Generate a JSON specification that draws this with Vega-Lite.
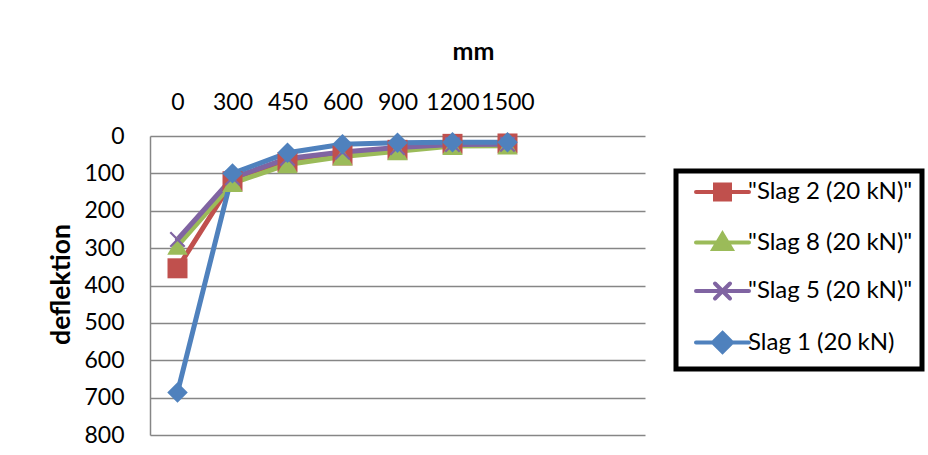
{
  "$schema": "https://vega.github.io/schema/vega-lite/v6.json",
  "width": 495,
  "height": 299,
  "autosize": {"type": "none"},
  "padding": {"left": 150, "top": 136, "right": 283, "bottom": 20},
  "background": "white",
  "config": {
    "font": "Lato",
    "view": {"stroke": null},
    "legend": {"strokeColor": "black", "strokeWidth": 5, "fillColor": "white"}
  },
  "data": {
    "values": [
      {"mm": "0", "deflektion": 354, "series": "\"Slag 2 (20 kN)\""},
      {"mm": "300", "deflektion": 121, "series": "\"Slag 2 (20 kN)\""},
      {"mm": "450", "deflektion": 70, "series": "\"Slag 2 (20 kN)\""},
      {"mm": "600", "deflektion": 52, "series": "\"Slag 2 (20 kN)\""},
      {"mm": "900", "deflektion": 37, "series": "\"Slag 2 (20 kN)\""},
      {"mm": "1200", "deflektion": 21, "series": "\"Slag 2 (20 kN)\""},
      {"mm": "1500", "deflektion": 20, "series": "\"Slag 2 (20 kN)\""},
      {"mm": "0", "deflektion": 294, "series": "\"Slag 8 (20 kN)\""},
      {"mm": "300", "deflektion": 126, "series": "\"Slag 8 (20 kN)\""},
      {"mm": "450", "deflektion": 76, "series": "\"Slag 8 (20 kN)\""},
      {"mm": "600", "deflektion": 55, "series": "\"Slag 8 (20 kN)\""},
      {"mm": "900", "deflektion": 41, "series": "\"Slag 8 (20 kN)\""},
      {"mm": "1200", "deflektion": 27, "series": "\"Slag 8 (20 kN)\""},
      {"mm": "1500", "deflektion": 26, "series": "\"Slag 8 (20 kN)\""},
      {"mm": "0", "deflektion": 277, "series": "\"Slag 5 (20 kN)\""},
      {"mm": "300", "deflektion": 112, "series": "\"Slag 5 (20 kN)\""},
      {"mm": "450", "deflektion": 60, "series": "\"Slag 5 (20 kN)\""},
      {"mm": "600", "deflektion": 43, "series": "\"Slag 5 (20 kN)\""},
      {"mm": "900", "deflektion": 31, "series": "\"Slag 5 (20 kN)\""},
      {"mm": "1200", "deflektion": 23, "series": "\"Slag 5 (20 kN)\""},
      {"mm": "1500", "deflektion": 22, "series": "\"Slag 5 (20 kN)\""},
      {"mm": "0", "deflektion": 686, "series": "Slag 1 (20 kN)"},
      {"mm": "300", "deflektion": 100, "series": "Slag 1 (20 kN)"},
      {"mm": "450", "deflektion": 45, "series": "Slag 1 (20 kN)"},
      {"mm": "600", "deflektion": 22, "series": "Slag 1 (20 kN)"},
      {"mm": "900", "deflektion": 18, "series": "Slag 1 (20 kN)"},
      {"mm": "1200", "deflektion": 17, "series": "Slag 1 (20 kN)"},
      {"mm": "1500", "deflektion": 17, "series": "Slag 1 (20 kN)"}
    ]
  },
  "encoding": {
    "x": {
      "field": "mm",
      "type": "ordinal",
      "scale": {"type": "point", "padding": 0.5, "domain": ["0", "300", "450", "600", "900", "1200", "1500", "~a", "~b"]},
      "axis": {
        "orient": "top",
        "title": "mm",
        "titleFontSize": 25,
        "titleFontWeight": "bold",
        "titleColor": "black",
        "titleX": 323,
        "titleY": -85,
        "titleAlign": "center",
        "titleBaseline": "middle",
        "labelAngle": 0,
        "labelFontSize": 23,
        "labelColor": "black",
        "labelPadding": 22,
        "labelOverlap": false,
        "labelBound": false,
        "labelFlush": false,
        "labelExpr": "indexof(datum.label, '~') >= 0 ? '' : datum.label",
        "ticks": false,
        "domain": false,
        "grid": false
      }
    },
    "y": {
      "field": "deflektion",
      "type": "quantitative",
      "scale": {"domain": [0, 800], "reverse": true, "nice": false, "zero": true},
      "axis": {
        "values": [0, 100, 200, 300, 400, 500, 600, 700, 800],
        "title": "deflektion",
        "titleFontSize": 26.5,
        "titleFontWeight": "bold",
        "titleColor": "black",
        "titleAngle": -90,
        "titleX": -89,
        "titleY": 148,
        "titleAlign": "center",
        "titleBaseline": "middle",
        "labelFontSize": 23,
        "labelColor": "black",
        "labelPadding": 26,
        "ticks": false,
        "domain": true,
        "domainColor": "#868686",
        "domainWidth": 1.5,
        "grid": true,
        "gridColor": "#868686",
        "gridWidth": 1.5
      }
    },
    "color": {
      "field": "series",
      "type": "nominal",
      "scale": {
        "domain": ["\"Slag 2 (20 kN)\"", "\"Slag 8 (20 kN)\"", "\"Slag 5 (20 kN)\"", "Slag 1 (20 kN)"],
        "range": ["#C0504D", "#9BBB59", "#8064A2", "#4F81BD"]
      },
      "legend": {
        "orient": "none",
        "legendX": 526,
        "legendY": 35,
        "title": null,
        "padding": 9,
        "labelFontSize": 24,
        "labelLimit": 400,
        "labelColor": "black",
        "labelOffset": 39,
        "rowPadding": 17.5,
        "symbolSize": 400,
        "encode": {
          "symbols": {
            "update": {
              "shape": {"signal": "indexof(datum.value,'Slag 2') >= 0 ? 'M-0.1,0H5.2M1.8,-0.75H3.3V0.75H1.8Z' : indexof(datum.value,'Slag 8') >= 0 ? 'M-0.1,0H5.2M2.55,-0.85L3.45,0.65H1.65Z' : indexof(datum.value,'Slag 5') >= 0 ? 'M-0.1,0H5.2M1.8,-0.75L3.3,0.75M1.8,0.75L3.3,-0.75' : 'M-0.1,0H5.2M2.55,-0.95L3.5,0L2.55,0.95L1.6,0Z'"},
              "fill": {"scale": "color", "field": "value"},
              "stroke": {"scale": "color", "field": "value"},
              "strokeWidth": {"value": 4},
              "strokeCap": {"value": "round"},
              "opacity": {"value": 1},
              "fillOpacity": {"value": 1},
              "strokeOpacity": {"value": 1}
            }
          }
        }
      }
    }
  },
  "layer": [
    {
      "mark": {"type": "line", "strokeWidth": 5, "strokeJoin": "round", "strokeCap": "round"}
    },
    {
      "transform": [{"filter": "indexof(datum.series, 'Slag 2') >= 0"}],
      "mark": {"type": "point", "filled": true, "shape": "square", "size": 400, "opacity": 1}
    },
    {
      "transform": [{"filter": "indexof(datum.series, 'Slag 8') >= 0"}],
      "mark": {"type": "point", "filled": true, "shape": "triangle-up", "size": 420, "opacity": 1}
    },
    {
      "transform": [{"filter": "indexof(datum.series, 'Slag 5') >= 0"}],
      "mark": {"type": "point", "filled": false, "shape": "M-0.8,-0.8L0.8,0.8M-0.8,0.8L0.8,-0.8", "size": 324, "strokeWidth": 2.2, "opacity": 1}
    },
    {
      "transform": [{"filter": "indexof(datum.series, 'Slag 1') >= 0"}],
      "mark": {"type": "point", "filled": true, "shape": "diamond", "size": 420, "opacity": 1}
    }
  ]
}
